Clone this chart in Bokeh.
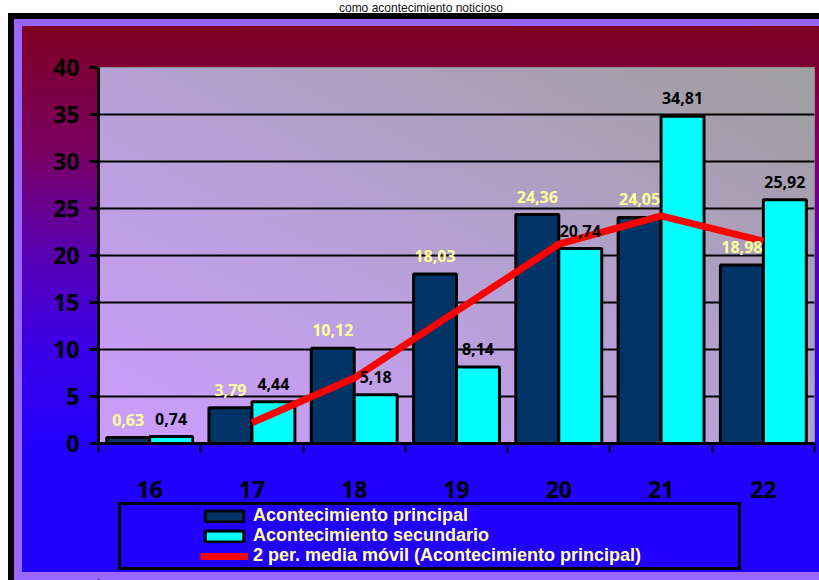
import numpy as np
from bokeh.plotting import figure
from bokeh.models import FixedTicker, Legend, LegendItem, ColumnDataSource, Div, Range1d
from bokeh.transform import dodge
from bokeh.layouts import column
from bokeh.embed import file_html
from bokeh.resources import INLINE
from bokeh.core.properties import value

# ---------------- data ----------------
categories = ["16", "17", "18", "19", "20", "21", "22"]
principal = [0.63, 3.79, 10.12, 18.03, 24.36, 24.05, 18.98]
secundario = [0.74, 4.44, 5.18, 8.14, 20.74, 34.81, 25.92]
# 2-period moving average of "principal" (categories 17..22)
media_movil_cats = ["17", "18", "19", "20", "21", "22"]
media_movil = [2.21, 6.96, 14.08, 21.20, 24.21, 21.52]
y_ticks = [0, 5, 10, 15, 20, 25, 30, 35, 40]
title_text = "como acontecimiento noticioso"
legend_labels = ["Acontecimiento principal", "Acontecimiento secundario",
                 "2 per. media móvil (Acontecimiento principal)"]

# ---------------- layout constants ----------------
TOP = 13                       # title strip height
LEFT = 8                       # white strip left of the frame
W = 819 - LEFT
H1, H2 = 492, 75               # chart figure, legend figure
BL, BT, BR = 90, 54, 5
FH = 376
BB = H1 - BT - FH
FW = W - BL - BR
FONT = "Open Sans"
LEG_FONT = "Liberation Sans"
NAVY, CYAN, RED = "#003366", "#00ffff", "#ff0000"

def fmt(v):
    return f"{v:.2f}".replace(".", ",")

idx = {c: i for i, c in enumerate(categories)}
src = ColumnDataSource(dict(
    x=[idx[c] for c in categories],
    principal=principal,
    secundario=secundario,
    lab_p=[fmt(v) for v in principal],
    lab_s=[fmt(v) for v in secundario],
))
ma_src = ColumnDataSource(dict(x=[idx[c] for c in media_movil_cats], y=media_movil))

# ---------------- CSS background (frame, gradients, legend box) ----------------
def rect(color, x, y, w, h):
    return f"linear-gradient({color},{color}) {x} {y} / {w} {h} no-repeat"

LX, LY, LW, LH = 110, 489, 623, 68
layers = [
    rect("#000", f"{LX}px", f"{LY}px", f"{LW}px", "3px"),
    rect("#000", f"{LX}px", f"{LY + LH - 3}px", f"{LW}px", "3px"),
    rect("#000", f"{LX}px", f"{LY}px", "3px", f"{LH}px"),
    rect("#000", f"{LX + LW - 3}px", f"{LY}px", "3px", f"{LH}px"),
    f"linear-gradient(to bottom left, #9e9e9e 0%, #b8a0d8 55%, #cc9cff 100%) {BL}px {BT}px / {FW}px {FH}px no-repeat",
    rect("#000", "0px", "0px", "6px", "100%"),
    rect("#000", "0px", "0px", "100%", "6px"),
    rect("#9966ff", "6px", "6px", "8px", "100%"),
    rect("#9966ff", "6px", "6px", "100%", "7px"),
    rect("#9966ff", "6px", "100%", "100%", "8px"),
    "linear-gradient(to bottom, #800020 9px, #7a0060 137px, #5a00b0 237px, #3a00e8 337px, #2200ff 437px, #2200ff 100%)",
]

p = figure(width=W, height=H1, x_range=(-0.5, len(categories) - 0.5), y_range=(0, 40),
           output_backend="svg", toolbar_location=None,
           min_border_left=BL, min_border_right=BR, min_border_top=BT, min_border_bottom=BB,
           background_fill_alpha=0, border_fill_alpha=0,
           outline_line_color="#8a8a8a", outline_line_width=1)

# bars
r1 = p.vbar(x=dodge("x", -0.21), top="principal", width=0.42, source=src,
            fill_color=NAVY, line_color="black", line_width=3)
r2 = p.vbar(x=dodge("x", 0.21), top="secundario", width=0.42, source=src,
            fill_color=CYAN, line_color="black", line_width=3)
# moving average
r3 = p.line(x="x", y="y", source=ma_src, line_color=RED, line_width=7)

# data labels
p.text(x=dodge("x", -0.21), y="principal", text="lab_p", source=src,
       text_align="center", text_baseline="bottom", y_offset=-12,
       text_color="#ffff99", text_font=value(FONT), text_font_style="bold",
       text_font_size="16px")
p.text(x=dodge("x", 0.21), y="secundario", text="lab_s", source=src,
       text_align="center", text_baseline="bottom", y_offset=-12,
       text_color="black", text_font=value(FONT), text_font_style="bold",
       text_font_size="16px")

# axes
xa = p.xaxis[0]
xa.ticker = FixedTicker(ticks=list(range(len(categories))),
                        minor_ticks=[i - 0.5 for i in range(len(categories) + 1)])
xa.major_label_overrides = {i: c for i, c in enumerate(categories)}
xa.major_tick_out = 0
xa.major_tick_in = 0
xa.major_tick_line_color = None
xa.minor_tick_out = 9
xa.minor_tick_in = 0
xa.minor_tick_line_width = 2
xa.minor_tick_line_color = "black"
xa.axis_line_width = 3
xa.axis_line_color = "black"
xa.major_label_standoff = 28
xa.major_label_text_font = FONT
xa.major_label_text_font_style = "bold"
xa.major_label_text_font_size = "23px"
xa.major_label_text_color = "black"

ya = p.yaxis[0]
ya.ticker = FixedTicker(ticks=y_ticks)
ya.major_tick_out = 9
ya.major_tick_in = 0
ya.major_tick_line_width = 3
ya.major_tick_line_color = "black"
ya.minor_tick_line_color = None
ya.axis_line_width = 3
ya.axis_line_color = "black"
ya.major_label_standoff = 10
ya.major_label_text_font = FONT
ya.major_label_text_font_style = "bold"
ya.major_label_text_font_size = "23px"
ya.major_label_text_color = "black"

p.xgrid.visible = False
p.ygrid.ticker = FixedTicker(ticks=y_ticks[1:-1])
p.ygrid.grid_line_color = "black"
p.ygrid.grid_line_width = 2

# ---------------- legend strip (separate figure, same styles) ----------------
pl = figure(width=W, height=H2, x_range=Range1d(0, 1), y_range=Range1d(0, 1),
            output_backend="svg", toolbar_location=None,
            x_axis_location=None, y_axis_location=None,
            min_border_left=0, min_border_right=0, min_border_top=0, min_border_bottom=0,
            background_fill_alpha=0, border_fill_alpha=0, outline_line_color=None)
pl.xgrid.visible = False
pl.ygrid.visible = False
# swatch renderers: one far off-screen sample each, only used for the legend glyphs
key_src = ColumnDataSource(dict(x=[-100], top=[-100], y=[-100]))
k1 = pl.vbar(x="x", top="top", bottom="top", width=0.01, source=key_src,
             fill_color=NAVY, line_color="black", line_width=3)
k2 = pl.vbar(x="x", top="top", bottom="top", width=0.01, source=key_src,
             fill_color=CYAN, line_color="black", line_width=3)
k3 = pl.line(x="x", y="y", source=key_src, line_color=RED, line_width=7)

# one legend per row so the row pitch matches the reference
row_bottoms = [54.0, 33.9, 13.8]
for lab, rend, yb in zip(legend_labels, [k1, k2, k3], row_bottoms):
    lg = Legend(items=[LegendItem(label=lab, renderers=[rend])],
                location=(102, yb),
                border_line_color=None, background_fill_alpha=0,
                padding=0, spacing=0, margin=0,
                glyph_width=48, glyph_height=14, label_height=16, label_standoff=5,
                label_text_font=LEG_FONT, label_text_font_style="bold",
                label_text_font_size="18px", label_text_color="#ffffa8")
    pl.add_layout(lg)

chart = column(p, pl, spacing=0, margin=(0, 0, 0, LEFT),
               styles={"background": ", ".join(layers)})

title = Div(text=f"<div style='width:819px; text-align:center; padding-left:23px; "
                 f"box-sizing:border-box; font:12px \"Liberation Sans\"; line-height:13px; "
                 f"color:#111; white-space:nowrap'>{title_text}</div>",
            width=819, height=TOP, margin=0)

layout = column(title, chart, spacing=0)
open("out.html", "w").write(file_html(layout, INLINE))
